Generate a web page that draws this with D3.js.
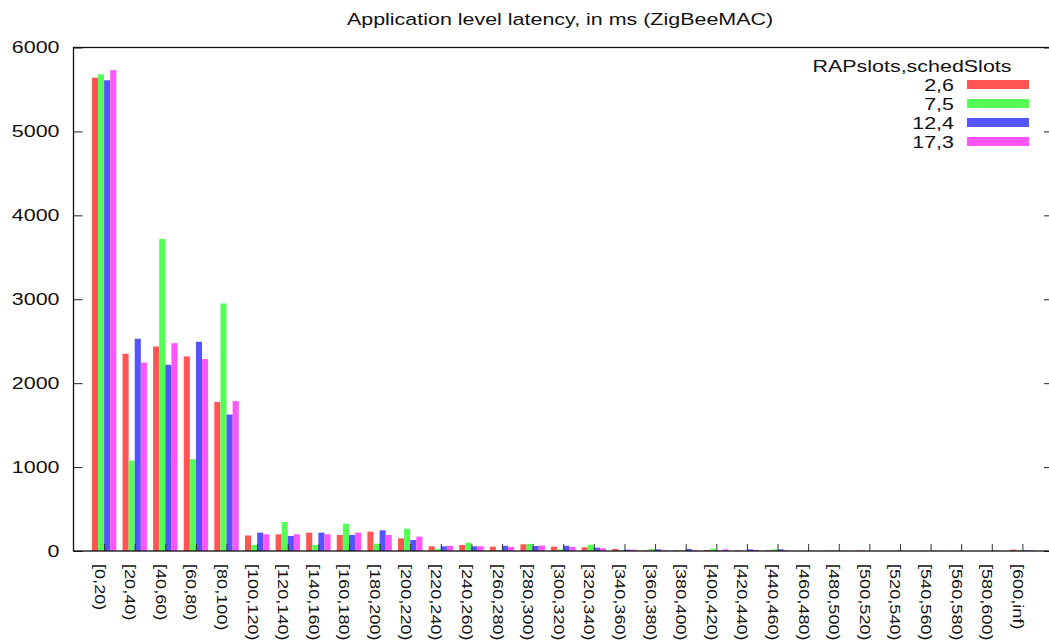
<!DOCTYPE html>
<html>
<head>
<meta charset="utf-8">
<script src="https://cdn.jsdelivr.net/npm/d3@7"></script>
<style>
  body { margin: 0; background: #fff; }
  text { font-family: "Liberation Sans", Arial, sans-serif; fill: #111; }
</style>
</head>
<body>
<div id="latency_chart"></div>
<script>
var categories = ["[0,20)","[20,40)","[40,60)","[60,80)","[80,100)","[100,120)","[120,140)","[140,160)",
  "[160,180)","[180,200)","[200,220)","[220,240)","[240,260)","[260,280)","[280,300)","[300,320)",
  "[320,340)","[340,360)","[360,380)","[380,400)","[400,420)","[420,440)","[440,460)","[460,480)",
  "[480,500)","[500,520)","[520,540)","[540,560)","[560,580)","[580,600)","[600,inf)"];

var seriesNames = ["2,6", "7,5", "12,4", "17,3"];
var seriesColors = ["#ff5555", "#55ff55", "#5555ff", "#ff55ff"];

var rap2 = [5640,2350,2437,2318,1777,185,199,219,191,231,151,56,72,52,80,52,44,24,8,8,12,8,8,2,4,6,0,4,0,0,16];
var rap7 = [5680,1077,3718,1094,2950,72,346,72,326,88,266,24,99,12,85,20,75,4,24,4,28,2,20,2,4,0,4,0,4,0,8];
var rap12 = [5610,2529,2219,2493,1626,219,179,219,191,247,131,56,56,62,60,62,40,16,20,24,4,20,20,2,3,0,3,4,0,3,8];
var rap17 = [5730,2246,2477,2287,1786,199,199,199,219,191,171,62,56,48,65,48,32,16,8,12,20,12,8,3,0,4,0,3,0,0,8];

var yTicks = [0, 1000, 2000, 3000, 4000, 5000, 6000];
var titleText = "Application level latency, in ms (ZigBeeMAC)";
var legendTitle = "RAPslots,schedSlots";

var allSeries = [rap2, rap7, rap12, rap17];

var W = 1049, H = 644;
var plotL = 73.5, plotR = 1053, plotT = 47.5, plotB = 551;
var stretch = 1.3;

var svg = d3.select("#latency_chart")
  .append("svg")
  .attr("width", W)
  .attr("height", H);

svg.append("rect").attr("width", W).attr("height", H).attr("fill", "#fff");

var x = d3.scaleLinear()
  .domain([-1, categories.length])
  .range([plotL, plotR]);

var y = d3.scaleLinear()
  .domain([0, 6000])
  .range([plotB, plotT]);

var barW = 6.1;

// bars
var rows = [];
allSeries.forEach(function(s, k) {
  s.forEach(function(v, i) { rows.push({k: k, i: i, v: v}); });
});

svg.append("g")
  .selectAll("rect")
  .data(rows)
  .enter()
  .append("rect")
    .attr("x", function(d) { return x(d.i) + (d.k - 2) * barW; })
    .attr("y", function(d) { return y(d.v); })
    .attr("width", barW)
    .attr("height", function(d) { return plotB - y(d.v); })
    .attr("fill", function(d) { return seriesColors[d.k]; });

// y axis left
var yAxis = svg.append("g")
  .attr("transform", "translate(" + plotL + ",0)")
  .call(d3.axisLeft(y).tickValues(yTicks).tickFormat(d3.format("d"))
    .tickSize(-9).tickSizeOuter(0).tickPadding(14));
yAxis.select(".domain").remove();
yAxis.selectAll("line").attr("stroke", "#222");
yAxis.selectAll("text")
  .attr("x", -14 / stretch)
  .attr("transform", "scale(" + stretch + ",1)")
  .style("font-size", "16.5px")
  .style("font-family", "'Liberation Sans', Arial, sans-serif")
  .attr("fill", "#111");

// y axis right (mirror ticks)
var yAxisR = svg.append("g")
  .attr("transform", "translate(" + plotR + ",0)")
  .call(d3.axisRight(y).tickValues(yTicks).tickSize(-9).tickSizeOuter(0).tickFormat(""));
yAxisR.select(".domain").remove();
yAxisR.selectAll("line").attr("stroke", "#222");

// x axis
var xAxis = svg.append("g")
  .attr("transform", "translate(0," + plotB + ")")
  .call(d3.axisBottom(x).tickValues(d3.range(categories.length)).tickSize(-7).tickSizeOuter(0)
    .tickFormat(function(i) { return categories[i]; }));
xAxis.select(".domain").remove();
xAxis.selectAll("line").attr("stroke", "#333");
xAxis.selectAll("text")
  .attr("x", 0)
  .attr("y", 0)
  .attr("dy", 0)
  .attr("text-anchor", "start")
  .attr("transform", "translate(-10,13) rotate(90) scale(1.1,0.85)")
  .style("font-size", "16.5px")
  .style("font-family", "'Liberation Sans', Arial, sans-serif")
  .attr("fill", "#111");

// frame
svg.append("rect")
  .attr("x", plotL)
  .attr("y", plotT)
  .attr("width", plotR - plotL)
  .attr("height", plotB - plotT)
  .attr("fill", "none")
  .attr("stroke", "#111")
  .attr("stroke-width", 1.3);

// title
svg.append("text")
  .attr("transform", "translate(560,25) scale(" + stretch + ",1)")
  .attr("text-anchor", "middle")
  .style("font-size", "16.5px")
  .text(titleText);

// legend
svg.append("text")
  .attr("transform", "translate(812.5,71.5) scale(" + stretch + ",1)")
  .style("font-size", "16.5px")
  .text(legendTitle);

var legendRowY = function(k) { return 84.5 + k * 19; };

svg.selectAll("legendswatch")
  .data(seriesNames)
  .enter()
  .append("rect")
    .attr("x", 967)
    .attr("y", function(d, k) { return legendRowY(k) - 4.5; })
    .attr("width", 62)
    .attr("height", 9)
    .attr("fill", function(d, k) { return seriesColors[k]; });

svg.selectAll("legendlabel")
  .data(seriesNames)
  .enter()
  .append("text")
    .attr("transform", function(d, k) { return "translate(954," + (legendRowY(k) + 6) + ") scale(" + stretch + ",1)"; })
    .attr("text-anchor", "end")
    .style("font-size", "16.5px")
    .text(function(d) { return d; });
</script>
</body>
</html>
